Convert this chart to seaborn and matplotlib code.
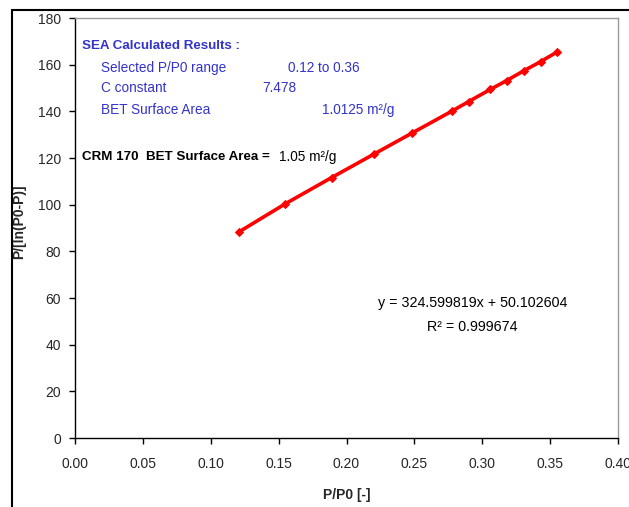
import matplotlib
matplotlib.use("Agg")
import matplotlib.pyplot as plt
from matplotlib.patches import Rectangle
import seaborn as sns
import pandas as pd

# BET plot data
p_rel = [0.121, 0.155, 0.189, 0.220, 0.248, 0.278, 0.290, 0.306, 0.318, 0.331, 0.343, 0.355]
bet_y = [88.4, 100.4, 111.6, 121.6, 130.6, 140.2, 144.2, 149.4, 153.2, 157.5, 161.3, 165.4]
x_ticks = [0.00, 0.05, 0.10, 0.15, 0.20, 0.25, 0.30, 0.35, 0.40]
y_ticks = [0, 20, 40, 60, 80, 100, 120, 140, 160, 180]

sns.set_style("white")
plt.rcParams['font.family'] = ['Liberation Sans Narrow', 'Liberation Sans', 'DejaVu Sans']

W, H = 629, 507
fig = plt.figure(figsize=(W / 100, H / 100), dpi=100)
ax = fig.add_axes([75 / W, 1 - 438 / H, (618 - 75) / W, (438 - 18) / H])

df = pd.DataFrame({"P/P0": p_rel, "BET": bet_y})
sns.lineplot(data=df, x="P/P0", y="BET", ax=ax, color="#ff0000", linewidth=2.6,
             marker="D", markersize=4, markeredgecolor="#ff0000")

ax.set_xlim(0, 0.40)
ax.set_ylim(0, 180)
ax.set_xticks(x_ticks)
ax.set_yticks(y_ticks)
ax.set_xticklabels([f"{t:.2f}" for t in x_ticks], fontsize=10)
ax.set_yticklabels([str(t) for t in y_ticks], fontsize=10)
ax.tick_params(axis="both", direction="out", length=4, width=1, color="black",
               left=True, bottom=True)
ax.tick_params(axis="x", pad=10)
ax.tick_params(axis="y", pad=6)
ax.set_xlabel("P/P0 [-]", fontsize=10, fontweight="bold")
ax.set_ylabel("P/[ln(P0-P)]", fontsize=10, fontweight="bold")
ax.xaxis.set_label_coords((347 - 75) / 543, (438 - 495) / 420)
ax.yaxis.set_label_coords((19 - 75) / 543, (438 - 222) / 420)
ax.xaxis.label.set_va("center")
ax.yaxis.label.set_va("center")

for side in ("left", "bottom"):
    ax.spines[side].set_color("black")
    ax.spines[side].set_linewidth(1)
for side in ("top", "right"):
    ax.spines[side].set_color("#999999")
    ax.spines[side].set_linewidth(1)

# outer chart border
fig.patches.append(Rectangle((12 / W, -0.05), 1.0, 1 - 10 / H + 0.05,
                             transform=fig.transFigure, fill=False,
                             edgecolor="black", linewidth=1.5))

blue = "#3333cc"


def put(x, y, s, **kw):
    fig.text(x / W, 1 - y / H, s, va="center", **kw)


put(82, 46, "SEA Calculated Results :", color=blue, fontsize=9.6, fontweight="bold")
put(101, 68, "Selected P/P0 range", color=blue, fontsize=9.8)
put(288, 68, "0.12 to 0.36", color=blue, fontsize=9.8)
put(101, 88, "C constant", color=blue, fontsize=9.8)
put(262, 88, "7.478", color=blue, fontsize=9.8)
put(101, 110, "BET Surface Area", color=blue, fontsize=9.8)
put(322, 110, "1.0125 m²/g", color=blue, fontsize=9.8)

put(82, 157, "CRM 170  BET Surface Area =", color="black", fontsize=9.6, fontweight="bold")
put(279, 157, "1.05 m²/g", color="black", fontsize=9.8)

put(473, 303, "y = 324.599819x + 50.102604", color="black", fontsize=10.3, ha="center")
put(472, 327, "R² = 0.999674", color="black", fontsize=10.3, ha="center")

fig.savefig("out.png", dpi=100)
